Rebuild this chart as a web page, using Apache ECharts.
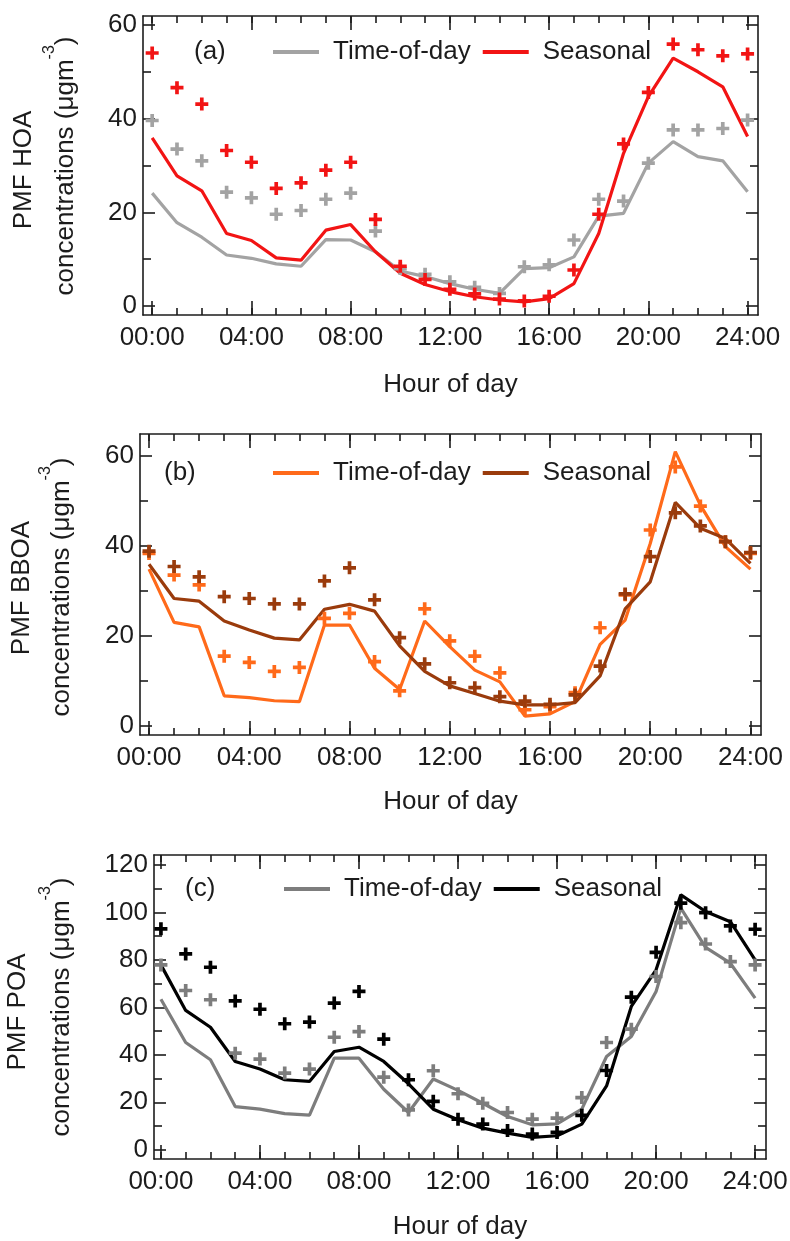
<!DOCTYPE html>
<html>
<head>
<meta charset="utf-8">
<script src="https://cdn.jsdelivr.net/npm/echarts@6/dist/echarts.min.js"></script>
<style>
html,body{margin:0;padding:0;background:#fff;}
#chart{width:790px;height:1241px;}
</style>
</head>
<body>
<div id="chart"></div>
<script>
// ---------- data ----------
const hours = [0,1,2,3,4,5,6,7,8,9,10,11,12,13,14,15,16,17,18,19,20,21,22,23,24];
const xMajorTicks = [0,4,8,12,16,20,24];
const xTickLabels = ['00:00','04:00','08:00','12:00','16:00','20:00','24:00'];

// (a) PMF HOA
const hoaTimeOfDayLine = [24.1,17.8,14.7,10.9,10.2,9.0,8.5,14.2,14.1,11.6,7.5,6.3,4.8,3.6,2.7,8.0,8.2,10.5,19.2,19.8,30.5,35.1,31.9,31.0,24.4];
const hoaSeasonalLine  = [35.9,27.8,24.6,15.5,14.0,10.3,9.8,16.2,17.4,11.6,7.0,4.6,3.1,2.0,1.3,0.9,1.6,4.8,15.5,32.6,44.7,52.9,50.0,46.8,36.2];
const hoaTimeOfDayPts  = [39.6,33.5,31.0,24.3,23.1,19.6,20.4,22.8,24.1,16.0,8.0,6.8,5.2,4.0,2.7,8.4,8.8,14.1,22.8,22.4,30.5,37.6,37.6,37.9,39.7];
const hoaSeasonalPts   = [54.0,46.6,43.1,33.2,30.7,25.1,26.3,29.0,30.7,18.5,8.5,5.7,3.6,2.6,1.5,1.1,2.1,7.7,19.6,34.6,45.6,55.9,54.7,53.4,53.8];

// (b) PMF BBOA
const bboaTimeOfDayLine = [34.8,23.0,22.0,6.7,6.3,5.6,5.4,22.4,22.4,12.8,8.1,23.3,17.6,12.4,9.8,2.2,2.7,5.4,18.1,23.5,40.5,60.9,49.0,39.8,34.8];
const bboaSeasonalLine  = [35.9,28.3,27.7,23.3,21.3,19.5,19.1,25.9,27.0,25.5,17.8,12.1,8.9,7.2,5.5,4.7,4.7,5.2,11.1,26.0,32.0,49.6,43.9,41.6,36.1];
const bboaTimeOfDayPts  = [38.3,33.5,31.3,15.5,14.1,12.1,13.0,23.9,25.0,14.3,7.8,26.0,18.9,15.5,11.8,3.6,4.3,7.4,21.8,29.1,43.5,57.5,48.8,40.9,38.3];
const bboaSeasonalPts   = [38.8,35.4,33.1,28.7,28.3,27.1,27.1,32.2,35.1,28.0,19.6,13.8,9.6,8.5,6.5,5.5,4.8,6.9,13.3,29.3,37.6,47.3,44.4,40.9,38.5];

// (c) PMF POA
const poaTimeOfDayLine = [63.4,45.2,37.9,18.2,17.1,15.2,14.6,38.6,38.6,25.5,15.7,29.8,25.0,19.6,14.0,10.5,10.9,17.1,39.3,47.7,66.7,101.8,85.3,78.6,63.9];
const poaSeasonalLine  = [77.9,58.7,51.6,37.2,34.0,29.5,28.8,41.4,43.2,37.2,27.8,17.1,12.6,9.1,7.0,5.2,5.9,10.8,26.9,60.4,75.8,107.4,100.4,96.1,80.0];
const poaTimeOfDayPts  = [77.9,67.1,63.2,40.7,38.2,32.3,34.0,47.4,49.8,30.6,16.8,33.3,23.6,19.6,15.7,12.9,13.3,22.0,45.2,50.8,73.0,95.7,86.7,79.3,77.9];
const poaSeasonalPts   = [93.1,82.5,76.9,62.7,59.2,53.1,53.8,61.8,66.7,46.6,29.5,20.4,12.9,10.8,8.1,6.6,7.3,14.5,33.4,64.3,83.2,103.9,99.9,94.3,92.9];

const yMajorA = [0,20,40,60];
const yMinorA = [10,30,50];
const yMajorC = [0,20,40,60,80,100,120];
const yMinorC = [10,30,50,70,90,110];

const panelLetters = ['(a)','(b)','(c)'];
const panelNames = ['PMF HOA','PMF BBOA','PMF POA'];
const seriesNames = ['Time-of-day','Seasonal'];

// ---------- styling ----------
const ink = '#1c1c1c';
const font = '"Liberation Sans", Arial, Helvetica, sans-serif';
const FS = 26;
const plusPath = 'path://M4.3,0H7.7V4.3H12V7.7H7.7V12H4.3V7.7H0V4.3H4.3Z';

const panels = [
  {grid:{left:143, top:16, width:615, height:299}, xr:[-0.37,24.42], yr:[-1.9,61.9], yMajor:yMajorA, yMinor:yMinorA,
   colors:['#a3a3a3','#f21414'], lines:[hoaTimeOfDayLine,hoaSeasonalLine], pts:[hoaTimeOfDayPts,hoaSeasonalPts],
   letterPos:[194,39], legendPos:[273,39], nameGap:57, ytitle:[[24,170],[66,166]]},
  {grid:{left:140, top:434, width:621, height:301}, xr:[-0.36,24.42], yr:[-2.0,64.8], yMajor:yMajorA, yMinor:yMinorA,
   colors:['#ff6a1a','#9a3b0c'], lines:[bboaTimeOfDayLine,bboaSeasonalLine], pts:[bboaTimeOfDayPts,bboaSeasonalPts],
   letterPos:[164,460], legendPos:[273,460], nameGap:54, ytitle:[[22,588],[62,587]]},
  {grid:{left:154, top:855, width:612, height:304}, xr:[-0.28,24.44], yr:[-3.9,124.2], yMajor:yMajorC, yMinor:yMinorC,
   colors:['#7d7d7d','#000000'], lines:[poaTimeOfDayLine,poaSeasonalLine], pts:[poaTimeOfDayPts,poaSeasonalPts],
   letterPos:[185,876], legendPos:[284,876], nameGap:55, ytitle:[[18,1012],[62,1007]]}
];

const grids = [], xAxes = [], yAxes = [], series = [], legends = [], titles = [], graphics = [];
const suffix = [' a',' b',' c'];

panels.forEach((p, g) => {
  grids.push(Object.assign({outerBoundsMode:'none', containLabel:false}, p.grid));
  const lineSt = {color:ink, width:1.6};
  const xBase = {gridIndex:g, type:'value', min:p.xr[0], max:p.xr[1], splitLine:{show:false}};
  xAxes.push(Object.assign({}, xBase, {
    position:'bottom',
    axisLine:{show:true, onZero:false, lineStyle:lineSt},
    axisTick:{show:true, inside:true, length:14, customValues:xMajorTicks, lineStyle:lineSt},
    axisLabel:{show:true, customValues:xMajorTicks, margin:10, fontSize:FS, color:ink, fontFamily:font,
      formatter:(v)=>xTickLabels[xMajorTicks.indexOf(v)]},
    name:'Hour of day', nameLocation:'middle', nameGap:p.nameGap,
    nameTextStyle:{fontSize:FS, color:ink, fontFamily:font}
  }));
  xAxes.push(Object.assign({}, xBase, {
    position:'bottom', axisLine:{show:false, onZero:false},
    axisTick:{show:true, inside:true, length:7, customValues:hours, lineStyle:lineSt},
    axisLabel:{show:false}
  }));
  xAxes.push(Object.assign({}, xBase, {
    position:'top', axisLine:{show:true, onZero:false, lineStyle:lineSt},
    axisTick:{show:true, inside:true, length:14, customValues:xMajorTicks, lineStyle:lineSt},
    axisLabel:{show:false}
  }));
  xAxes.push(Object.assign({}, xBase, {
    position:'top', axisLine:{show:false, onZero:false},
    axisTick:{show:true, inside:true, length:7, customValues:hours, lineStyle:lineSt},
    axisLabel:{show:false}
  }));

  const yBase = {gridIndex:g, type:'value', min:p.yr[0], max:p.yr[1], splitLine:{show:false}};
  yAxes.push(Object.assign({}, yBase, {
    position:'left', axisLine:{show:true, onZero:false, lineStyle:lineSt},
    axisTick:{show:true, inside:true, length:12, customValues:p.yMajor, lineStyle:lineSt},
    axisLabel:{show:true, customValues:p.yMajor, margin:6, fontSize:FS, color:ink, fontFamily:font}
  }));
  yAxes.push(Object.assign({}, yBase, {
    position:'left', axisLine:{show:false, onZero:false},
    axisTick:{show:true, inside:true, length:8, customValues:p.yMinor, lineStyle:lineSt},
    axisLabel:{show:false}
  }));
  yAxes.push(Object.assign({}, yBase, {
    position:'right', axisLine:{show:true, onZero:false, lineStyle:lineSt},
    axisTick:{show:true, inside:true, length:12, customValues:p.yMajor, lineStyle:lineSt},
    axisLabel:{show:false}
  }));
  yAxes.push(Object.assign({}, yBase, {
    position:'right', axisLine:{show:false, onZero:false},
    axisTick:{show:true, inside:true, length:8, customValues:p.yMinor, lineStyle:lineSt},
    axisLabel:{show:false}
  }));

  const xi = 4*g, yi = 4*g;
  [0,1].forEach(k => {
    series.push({
      name: seriesNames[k] + suffix[g], type:'line', xAxisIndex:xi, yAxisIndex:yi,
      data: hours.map((h,i)=>[h, p.lines[k][i]]),
      showSymbol:false, symbol:'none', smooth:false,
      lineStyle:{color:p.colors[k], width:3.2}, itemStyle:{color:p.colors[k]},
      z: 2 + k, animation:false, silent:true
    });
  });
  [0,1].forEach(k => {
    series.push({
      name: seriesNames[k] + suffix[g] + ' pts', type:'scatter', xAxisIndex:xi, yAxisIndex:yi,
      data: hours.map((h,i)=>[h, p.pts[k][i]]),
      symbol: plusPath, symbolSize: 13,
      itemStyle:{color:p.colors[k], opacity:1},
      z: 4 + k, animation:false, silent:true
    });
  });

  legends.push({
    data: seriesNames.map(n => n + suffix[g]),
    left: p.legendPos[0], top: p.legendPos[1], padding:0,
    orient:'horizontal', icon:'rect', itemWidth:46, itemHeight:4, itemGap:12,
    selectedMode:false,
    textStyle:{fontSize:FS, color:ink, fontFamily:font, padding:[0,0,0,9]},
    formatter:(n)=>n.replace(/ [abc]$/,'')
  });

  titles.push({
    text: panelLetters[g], left:p.letterPos[0], top:p.letterPos[1], padding:0,
    textStyle:{fontSize:FS, fontWeight:'normal', color:ink, fontFamily:font}
  });

  graphics.push({
    type:'text', x:p.ytitle[0][0], y:p.ytitle[0][1], rotation:Math.PI/2,
    style:{text:panelNames[g], fontSize:FS, fontFamily:font, fill:ink,
      align:'center', verticalAlign:'middle', textAlign:'center', textVerticalAlign:'middle'}
  });
  graphics.push({
    type:'text', x:p.ytitle[1][0], y:p.ytitle[1][1], rotation:Math.PI/2,
    style:{text:'{a|concentrations (μgm}{s|-3}{a|)}', fill:ink,
      fontSize:FS, fontFamily:font,
      align:'center', verticalAlign:'middle', textAlign:'center', textVerticalAlign:'middle',
      rich:{
        a:{fontSize:FS, fontFamily:font, lineHeight:48, fill:ink, color:ink},
        s:{fontSize:16, fontFamily:font, lineHeight:16, verticalAlign:'top', fill:ink, color:ink}
      }}
  });
});

const chart = echarts.init(document.getElementById('chart'), null, {renderer:'canvas'});
chart.setOption({
  backgroundColor:'#ffffff',
  animation:false,
  title: titles,
  legend: legends,
  grid: grids,
  xAxis: xAxes,
  yAxis: yAxes,
  series: series,
  graphic: graphics
});
</script>
</body>
</html>
